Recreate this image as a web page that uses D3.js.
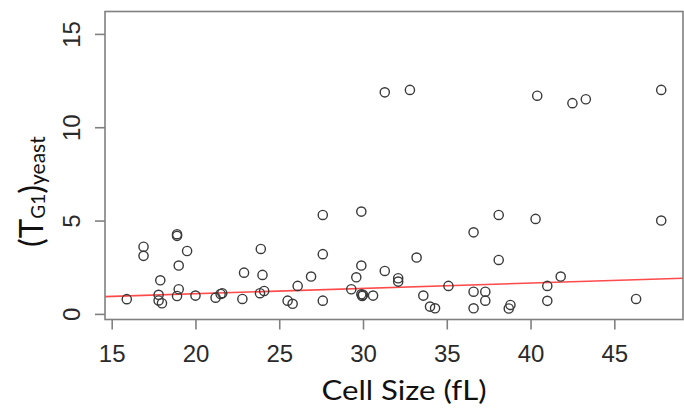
<!DOCTYPE html>
<html>
<head>
<meta charset="utf-8">
<script src="https://cdn.jsdelivr.net/npm/d3@7"></script>
<style>
  html, body { margin: 0; padding: 0; background: #fff; }
  svg { display: block; }
</style>
</head>
<body>
<svg id="chart" width="684" height="412"></svg>
<script>
// Cell size (fL) for each measured cell
const cellSize = [
  15.9, 16.9, 16.9, 17.9, 17.8, 17.8, 18.0, 18.9, 18.9, 19.5,
  19.0, 19.0, 18.9, 20.0, 21.2, 21.6, 21.5, 22.8, 22.9, 23.9,
  24.0, 23.85, 24.1, 25.5, 25.8, 26.1, 26.9, 27.6, 27.6, 27.6,
  29.3, 29.6, 29.9, 29.9, 29.9, 29.95, 30.0, 30.6, 31.3, 31.3,
  32.8, 32.1, 32.1, 33.2, 33.6, 34.0, 34.3, 35.1, 36.6, 36.6,
  36.6, 37.3, 37.3, 38.1, 38.1, 38.8, 38.7, 40.3, 40.4, 41.0,
  41.0, 41.8, 42.5, 43.3, 46.3, 47.8, 47.8
];

// G1 duration for the same cells
const g1Time = [
  0.79, 3.60, 3.11, 1.80, 1.02, 0.72, 0.57, 4.27, 4.18, 3.37,
  2.59, 1.32, 0.96, 0.98, 0.87, 1.11, 1.07, 0.80, 2.21, 3.48,
  2.09, 1.11, 1.23, 0.71, 0.54, 1.50, 2.00, 5.30, 3.20, 0.71,
  1.32, 1.96, 5.48, 2.59, 1.05, 0.96, 1.02, 0.98, 2.30, 11.87,
  12.00, 1.91, 1.73, 3.02, 0.98, 0.39, 0.30, 1.50, 4.37, 1.19,
  0.30, 1.19, 0.71, 5.30, 2.89, 0.48, 0.29, 5.09, 11.69, 1.50,
  0.70, 2.00, 11.29, 11.50, 0.80, 5.00, 12.00
];

// Tick values
const xTicks = [15, 20, 25, 30, 35, 40, 45];
const yTicks = [0, 5, 10, 15];

// Least-squares fit line: intercept and slope
const fitIntercept = 0.51;
const fitSlope = 0.0285;

// Axis extents (data units)
const xDomain = [14.6, 49.1];
const yDomain = [-0.3, 16.2];

const svg = d3.select("#chart");

const plot = { left: 105, right: 683, top: 11.5, bottom: 319.5 };

const x = d3.scaleLinear().domain(xDomain).range([plot.left, plot.right]);
const y = d3.scaleLinear().domain(yDomain).range([plot.bottom, plot.top]);

const points = cellSize.map((c, i) => ({ c, t: g1Time[i] }));

svg.append("defs").append("clipPath").attr("id", "plot-clip")
  .append("rect")
  .attr("x", plot.left).attr("y", plot.top)
  .attr("width", plot.right - plot.left)
  .attr("height", plot.bottom - plot.top);

// Fit line
svg.append("line")
  .attr("clip-path", "url(#plot-clip)")
  .attr("x1", x(xDomain[0])).attr("y1", y(fitIntercept + fitSlope * xDomain[0]))
  .attr("x2", x(xDomain[1])).attr("y2", y(fitIntercept + fitSlope * xDomain[1]))
  .attr("stroke", "#ff4a4a")
  .attr("stroke-width", 1.6);

// Points
svg.append("g")
  .selectAll("circle")
  .data(points)
  .join("circle")
  .attr("cx", d => x(d.c))
  .attr("cy", d => y(d.t))
  .attr("r", 4.6)
  .attr("fill", "none")
  .attr("stroke", "#3a3a3a")
  .attr("stroke-width", 1.4);

// Plot frame
svg.append("rect")
  .attr("x", plot.left).attr("y", plot.top)
  .attr("width", plot.right - plot.left)
  .attr("height", plot.bottom - plot.top)
  .attr("fill", "none")
  .attr("stroke", "#808080")
  .attr("stroke-width", 1.6);

// Bottom axis
const xAxis = d3.axisBottom(x).tickValues(xTicks).tickSize(10).tickPadding(6);
const gx = svg.append("g")
  .attr("transform", `translate(0,${plot.bottom})`)
  .call(xAxis);
gx.select(".domain").remove();
gx.selectAll(".tick line").attr("stroke", "#808080").attr("stroke-width", 1.6);
gx.selectAll(".tick text")
  .attr("fill", "#2a2a2a")
  .attr("font-family", "'Liberation Sans', Arial, sans-serif")
  .attr("font-size", 24)
  .attr("dy", null)
  .attr("y", 42);

// Left axis with labels parallel to the axis
const yAxis = d3.axisLeft(y).tickValues(yTicks).tickSize(10);
const gy = svg.append("g")
  .attr("transform", `translate(${plot.left},0)`)
  .call(yAxis);
gy.select(".domain").remove();
gy.selectAll(".tick line").attr("stroke", "#808080").attr("stroke-width", 1.6);
gy.selectAll(".tick text")
  .attr("fill", "#2a2a2a")
  .attr("font-family", "'Liberation Sans', Arial, sans-serif")
  .attr("font-size", 24)
  .attr("x", null).attr("dy", null)
  .attr("text-anchor", "middle")
  .attr("transform", "translate(-25,0) rotate(-90)");

// X axis title
svg.append("text")
  .attr("x", 404).attr("y", 400)
  .attr("text-anchor", "middle")
  .attr("font-family", "Lato, 'Open Sans', sans-serif")
  .attr("font-size", 26)
  .attr("fill", "#111")
  .attr("textLength", 165)
  .attr("lengthAdjust", "spacingAndGlyphs")
  .text("Cell Size (fL)");

// Y axis title with subscripts
const yt = svg.append("text")
  .attr("transform", "translate(43,247) rotate(-90)")
  .attr("font-family", "Lato, 'Open Sans', sans-serif")
  .attr("fill", "#111");
yt.append("tspan").attr("font-size", 33).text("(T");
yt.append("tspan").attr("font-size", 19).attr("dy", 2).text("G1");
yt.append("tspan").attr("font-size", 33).attr("dy", -2).text(")");
yt.append("tspan").attr("font-size", 21).attr("dy", 2).text("yeast");
</script>
</body>
</html>
